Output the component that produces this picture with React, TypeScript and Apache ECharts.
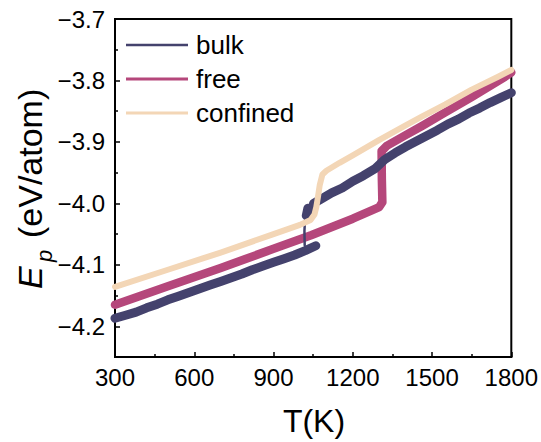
import React, { useEffect, useRef } from 'react';
import * as echarts from 'echarts';

const FONT = '"Liberation Sans", Arial, Helvetica, sans-serif';

// axis ticks
const xMin = 300;
const xMax = 1800;
const xStep = 300;
const yMin = -4.25;
const yMax = -3.7;
const yTicks = [-4.2, -4.1, -4.0, -3.9, -3.8, -3.7];
const yMinorTicks = [-4.15, -4.05, -3.95, -3.85, -3.75];

// legend order
const legendNames = ['bulk', 'free', 'confined'];

// bulk: solid phase branch
const bulkLowT = [300, 340, 380, 420, 460, 500, 540, 580, 620, 660, 700, 740, 780, 820, 860, 900, 940, 980, 1020, 1060];
const bulkLowE = [
  -4.187, -4.182, -4.177, -4.17, -4.164, -4.157, -4.151, -4.145, -4.139, -4.133, -4.127, -4.121, -4.115, -4.108,
  -4.102, -4.096, -4.09, -4.084, -4.077, -4.069,
];
// bulk: jump
const bulkJumpT = [1018, 1017, 1019, 1024];
const bulkJumpE = [-4.068, -4.045, -4.028, -4.02];
// bulk: liquid branch
const bulkHighT = [
  1024, 1030, 1042, 1052, 1060, 1080, 1120, 1160, 1200, 1240, 1286, 1320, 1360, 1400, 1440, 1480, 1520, 1560,
  1600, 1640, 1680, 1720, 1760, 1800,
];
const bulkHighE = [
  -4.02, -4.008, -4.012, -4.0, -3.998, -3.993, -3.983, -3.975, -3.964, -3.955, -3.943, -3.929, -3.918, -3.908,
  -3.899, -3.89, -3.881, -3.871, -3.863, -3.853, -3.845, -3.836, -3.828, -3.82,
];

// free
const freeT = [300, 500, 700, 900, 1042, 1200, 1300, 1312, 1310, 1309, 1330, 1400, 1462, 1550, 1650, 1776, 1800];
const freeE = [
  -4.165, -4.135, -4.105, -4.074, -4.052, -4.025, -4.006, -3.998, -3.96, -3.915, -3.906, -3.889, -3.874, -3.852,
  -3.827, -3.794, -3.787,
];

// confined
const confT = [
  300, 500, 700, 900, 1000, 1040, 1055, 1062, 1068, 1075, 1085, 1100, 1150, 1200, 1299, 1400, 1461, 1550, 1650,
  1750, 1800,
];
const confE = [
  -4.136, -4.108, -4.08, -4.05, -4.035, -4.027, -4.018, -4.006, -3.99, -3.97, -3.953, -3.947, -3.934, -3.922,
  -3.897, -3.873, -3.859, -3.839, -3.815, -3.794, -3.783,
];

const COLORS: Record<string, string> = {
  bulk: '#44426d',
  free: '#b5477b',
  confined: '#f3d6b6',
};

const zip = (t: number[], e: number[]) => t.map((v, i) => [v, e[i]]);

export default function App() {
  const ref = useRef<HTMLDivElement>(null);

  useEffect(() => {
    document.body.style.margin = '0';
    if (!ref.current) return;
    const chart = echarts.init(ref.current, undefined, { renderer: 'svg' });

    const lineSeries = (name: string, data: number[][], width: number) => ({
      name,
      type: 'line',
      data,
      symbol: 'none',
      showSymbol: false,
      color: COLORS[name],
      lineStyle: { color: COLORS[name], width, cap: 'round', join: 'round' },
      z: 2,
    });

    const axisLineStyle = { color: '#000', width: 2 };
    const titleBase = { fill: '#000', fontFamily: FONT, align: 'left', verticalAlign: 'middle' };

    chart.setOption({
      animation: false,
      backgroundColor: '#fff',
      grid: {
        left: 115,
        right: 28,
        top: 19,
        bottom: 85,
        show: true,
        borderColor: '#000',
        borderWidth: 2,
        backgroundColor: 'transparent',
      },
      legend: {
        orient: 'vertical',
        left: 126,
        top: 32,
        itemWidth: 62,
        itemHeight: 14,
        itemGap: 8,
        padding: 0,
        textStyle: { fontSize: 26, color: '#000', fontFamily: FONT, lineHeight: 26, padding: [0, 0, 0, 3] },
        data: [
          { name: legendNames[0], icon: 'path://M0,0H62V2.3H0Z' },
          { name: legendNames[1], icon: 'path://M0,0H62V3H0Z' },
          { name: legendNames[2], icon: 'path://M0,0H62V3H0Z' },
        ],
      },
      xAxis: {
        type: 'value',
        min: xMin,
        max: xMax,
        interval: xStep,
        axisLine: { show: true, lineStyle: axisLineStyle },
        axisTick: { show: true, inside: true, length: 5, lineStyle: { color: '#000', width: 1.5 } },
        minorTick: { show: true, splitNumber: 2, length: 3, lineStyle: { color: '#000', width: 1.5 } },
        splitLine: { show: false },
        minorSplitLine: { show: false },
        axisLabel: {
          color: '#000',
          fontSize: 24,
          fontFamily: FONT,
          margin: 8,
          formatter: (v: number) => String(v),
        },
      },
      yAxis: [
        {
          type: 'value',
          min: yMin,
          max: yMax,
          axisLine: { show: true, lineStyle: axisLineStyle },
          axisTick: {
            show: true,
            inside: true,
            length: 5,
            customValues: yTicks,
            lineStyle: { color: '#000', width: 1.5 },
          },
          axisLabel: {
            color: '#000',
            fontSize: 24,
            fontFamily: FONT,
            margin: 10,
            customValues: yTicks,
            formatter: (v: number) => v.toFixed(1).replace('-', '\u2212'),
          },
          splitLine: { show: false },
        },
        {
          type: 'value',
          min: yMin,
          max: yMax,
          position: 'left',
          axisLine: { show: false },
          axisTick: {
            show: true,
            inside: true,
            length: 3,
            customValues: yMinorTicks,
            lineStyle: { color: '#000', width: 1.5 },
          },
          axisLabel: { show: false },
          splitLine: { show: false },
        },
      ],
      graphic: [
        {
          type: 'text',
          x: 314,
          y: 421,
          style: {
            text: 'T(K)',
            fontSize: 32,
            fontFamily: FONT,
            fill: '#000',
            align: 'center',
            verticalAlign: 'middle',
          },
        },
        {
          type: 'text',
          x: 29.5,
          y: 289,
          rotation: Math.PI / 2,
          style: { ...titleBase, text: 'E', fontSize: 34, fontStyle: 'italic' },
        },
        {
          type: 'text',
          x: 44.5,
          y: 262,
          rotation: Math.PI / 2,
          style: { ...titleBase, text: 'p', fontSize: 22, fontStyle: 'italic' },
        },
        {
          type: 'text',
          x: 29.5,
          y: 238,
          rotation: Math.PI / 2,
          style: { ...titleBase, text: '(eV/atom)', fontSize: 34 },
        },
      ],
      series: [
        lineSeries('free', zip(freeT, freeE), 8.5),
        lineSeries('bulk', zip(bulkLowT, bulkLowE), 9),
        lineSeries('bulk', zip(bulkJumpT, bulkJumpE), 2.5),
        lineSeries('bulk', zip(bulkHighT, bulkHighE), 9),
        lineSeries('confined', zip(confT, confE), 6),
      ],
    });

    return () => chart.dispose();
  }, []);

  return <div ref={ref} style={{ width: 541, height: 442 }} />;
}
